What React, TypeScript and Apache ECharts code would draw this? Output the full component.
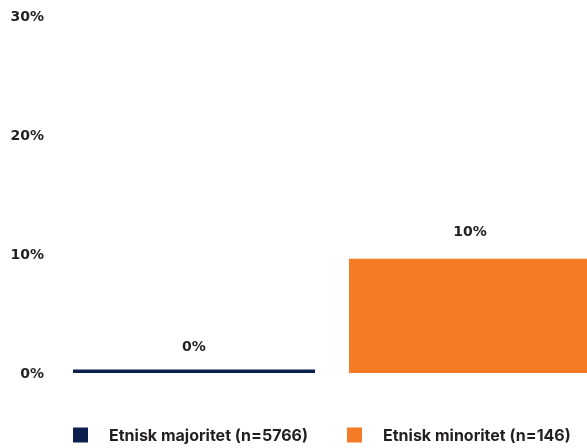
import React, { useEffect, useRef } from "react";
import * as echarts from "echarts";

const categories = ["Etnisk majoritet (n=5766)", "Etnisk minoritet (n=146)"];
const values = [0.3, 9.6];
const colors = ["#0B1F4D", "#F37B25"];
const labelDistances = [16, 21];
const yTicks = [0, 10, 20, 30];

export default function App() {
  const ref = useRef<HTMLDivElement>(null);
  useEffect(() => {
    if (!ref.current) return;
    const chart = echarts.init(ref.current, null, { renderer: "svg" });
    const series = categories.map((name, i) => ({
      name,
      type: "bar",
      data: categories.map((_, j) => (j === i ? values[i] : "-")),
      barWidth: 242,
      barGap: "-100%",
      itemStyle: { color: colors[i] },
      label: {
        show: true,
        position: "top",
        distance: labelDistances[i],
        formatter: (p: any) => Math.round(p.value) + "%",
        fontFamily: "DejaVu Sans",
        fontWeight: "bold",
        fontSize: 14,
        color: "#231F20",
      },
    }));
    chart.setOption({
      animation: false,
      grid: { left: 56, right: 0, top: 16, bottom: 75 },
      xAxis: {
        type: "category",
        data: categories,
        axisLine: { show: false },
        axisTick: { show: false },
        axisLabel: { show: false },
      },
      yAxis: {
        type: "value",
        min: yTicks[0],
        max: yTicks[yTicks.length - 1],
        interval: 10,
        splitLine: { show: false },
        axisLine: { show: false },
        axisTick: { show: false },
        axisLabel: {
          formatter: "{value}%",
          margin: 12,
          fontFamily: "DejaVu Sans",
          fontWeight: "bold",
          fontSize: 14,
          color: "#231F20",
        },
      },
      legend: {
        left: 73,
        top: 427,
        padding: 0,
        itemWidth: 15,
        itemHeight: 15,
        itemGap: 39,
        icon: "rect",
        data: categories,
        textStyle: {
          fontFamily: "Inter",
          fontWeight: "bold",
          fontSize: 16,
          color: "#231F20",
          padding: [0, 0, 0, 16],
        },
      },
      series,
    });
    return () => chart.dispose();
  }, []);
  return (
    <div
      ref={ref}
      style={{ position: "fixed", left: 0, top: 0, width: 608, height: 448 }}
    />
  );
}
